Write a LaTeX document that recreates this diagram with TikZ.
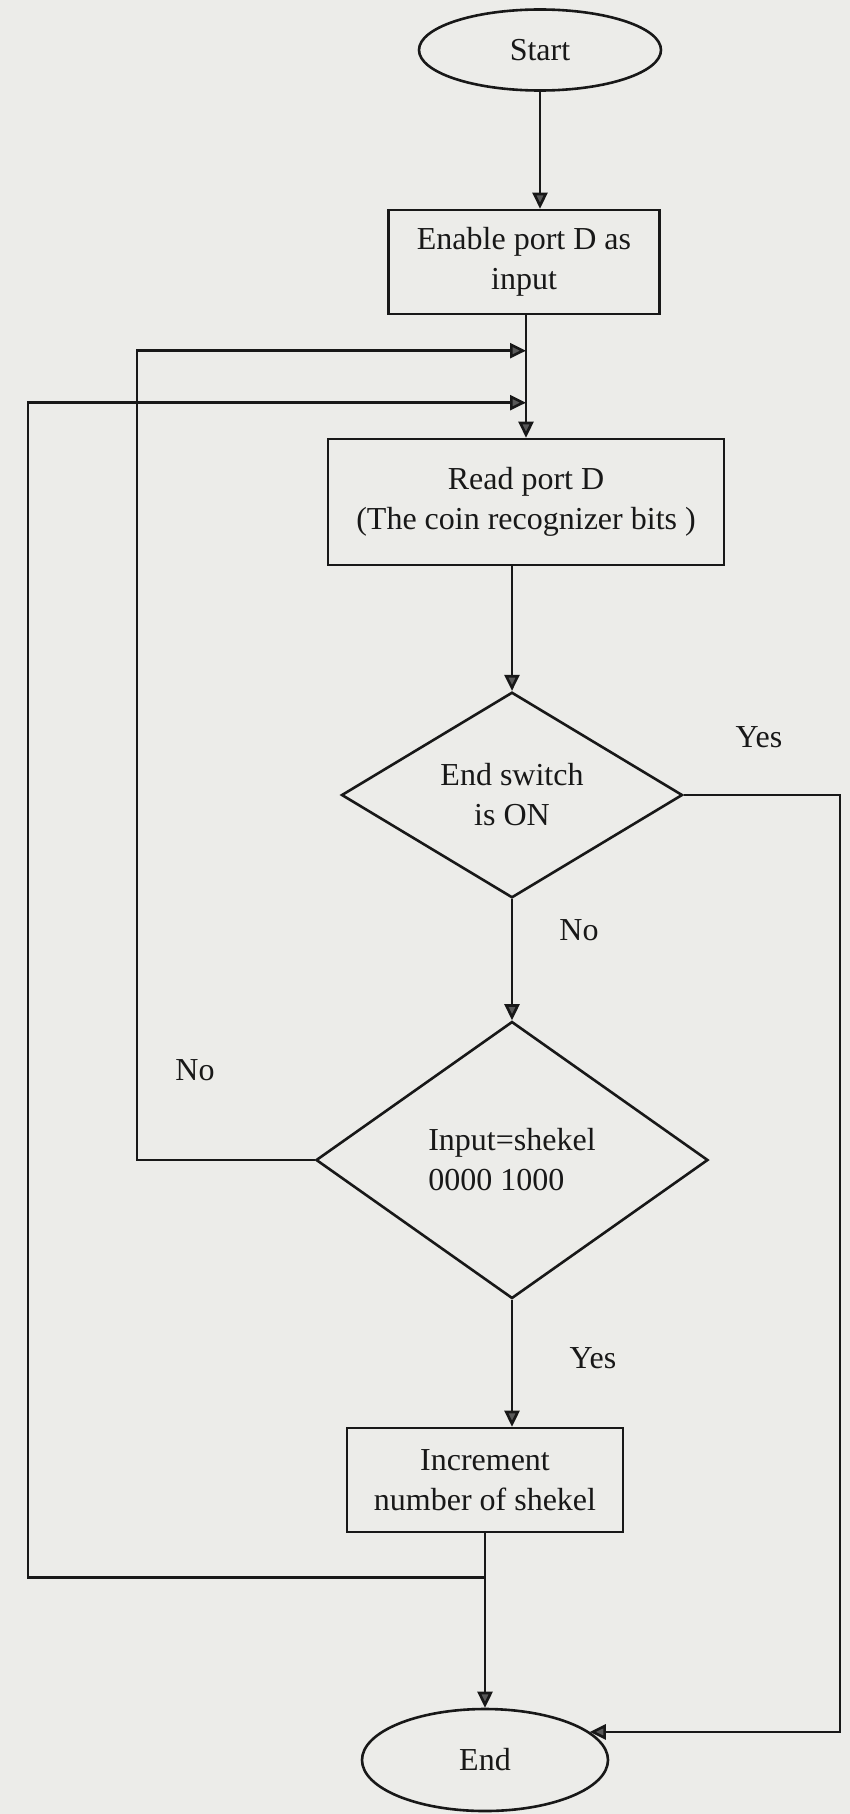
\documentclass[tikz,border=0pt]{standalone}
\usepackage{fontspec}
\setmainfont{Liberation Serif}
\usetikzlibrary{shapes.geometric,arrows.meta,calc}
\definecolor{paper}{RGB}{236,236,233}
\definecolor{ink}{RGB}{24,24,24}
\begin{document}
\begin{tikzpicture}[x=0.5pt,y=-0.5pt,
  every node/.style={font=\fontsize{16pt}{20pt}\selectfont, text=ink},
  box/.style={draw=ink, line width=1.3pt, rectangle, align=center, inner sep=0pt},
  term/.style={draw=ink, line width=1.3pt, ellipse, inner sep=0pt},
  decision/.style={draw=ink, line width=1.3pt, diamond, inner sep=0pt, align=center},
  flow/.style={draw=ink, line width=1.3pt, -{Triangle[length=8pt,width=7.5pt,fill=black!65]}},
]
% page
\fill[paper] (0,0) rectangle (850,1814);
\useasboundingbox (0,0) rectangle (850,1814);

% steps of the flow
\node[term, minimum width=121pt, minimum height=40.5pt] (start) at (540,50) {Start};
\node[box, minimum width=135.5pt, minimum height=52pt] (enable) at (524,262) {Enable port D as\\input};
\node[box, minimum width=198pt, minimum height=63pt] (read) at (526,502) {Read port D\\(The coin recognizer bits )};
\node[decision, minimum width=170.5pt, minimum height=101pt] (sw) at (512,795) {End switch\\is ON};
\node[decision, minimum width=196pt, minimum height=138.5pt, align=left] (coin) at (512,1160) {Input=shekel\\0000 1000};
\node[box, minimum width=138pt, minimum height=52pt] (inc) at (485,1480) {Increment\\number of shekel};
\node[term, minimum width=123pt, minimum height=51pt] (stop) at (485,1760) {End};

% routing points
\coordinate (xr) at (840,0);
\coordinate (xa) at (137,0);
\coordinate (xb) at (28,0);
\path (read.north) ++(0,-87) coordinate (inA) ++(0,52) coordinate (inB);
\path (inc.south) ++(0,44) coordinate (jB);

% main path
\draw[flow] (start.south) -- (start.south |- enable.north);
\draw[flow] (enable.south -| read.north) -- (read.north);
\draw[flow] (read.south -| sw.north) -- (sw.north);
\draw[flow] (sw.south) -- (coin.north);
\draw[flow] (coin.south) -- (coin.south |- inc.north);
\draw[flow] (inc.south) -- (stop.north);

% branches and loops
\draw[flow] (sw.east) -- (sw.east -| xr) |- (stop.15);
\draw[flow] (coin.west) -- (coin.west -| xa) |- (inA);
\draw[flow] (jB) -- (jB -| xb) |- (inB);

% branch labels
\node (yesA) at (759,737) {Yes};
\node (noA) at (579,930) {No};
\node (noB) at (195,1070) {No};
\node (yesB) at (593,1358) {Yes};
\end{tikzpicture}
\end{document}
